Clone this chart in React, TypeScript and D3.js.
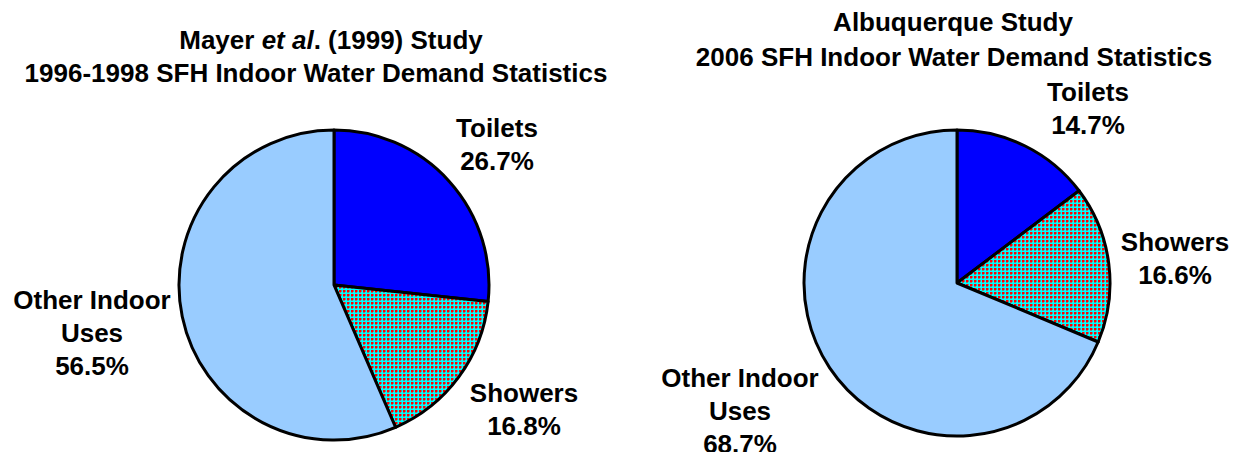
import React from 'react';
import * as d3 from 'd3';

// Data
const categories = ['Toilets', 'Showers', 'Other Indoor Uses'];
const mayerValues = [26.7, 16.8, 56.5];
const abqValues = [14.7, 16.6, 68.7];

const abqTitle = ['Albuquerque Study', '2006 SFH Indoor Water Demand Statistics'];
const mayerSubtitle = '1996-1998 SFH Indoor Water Demand Statistics';

const sliceFills = ['#0000FF', 'url(#showerPattern)', '#99CCFF'];

const font = '"Liberation Sans", Arial, sans-serif';
const fontSize = 26;
const lineH = 33;

function labelLines(cat: string, v: number): string[] {
  if (cat === 'Other Indoor Uses') return ['Other Indoor', 'Uses', `${v.toFixed(1)}%`];
  return [cat, `${v.toFixed(1)}%`];
}

function Pie({ cx, cy, r, values }: { cx: number; cy: number; r: number; values: number[] }) {
  const pie = d3.pie<number>().sort(null).value(d => d);
  const arc = d3.arc<d3.PieArcDatum<number>>().innerRadius(0).outerRadius(r);
  const arcs = pie(values);
  return (
    <g transform={`translate(${cx},${cy})`}>
      {arcs.map((a, i) => (
        <path key={i} d={arc(a) || ''} fill={sliceFills[i]} stroke="#000" strokeWidth={3} strokeLinejoin="round" />
      ))}
    </g>
  );
}

function Label({ x, y, lines }: { x: number; y: number; lines: string[] }) {
  return (
    <text fontFamily={font} fontSize={fontSize} fontWeight="bold" textAnchor="middle" fill="#000">
      {lines.map((l, i) => (
        <tspan key={i} x={x} y={y + i * lineH}>{l}</tspan>
      ))}
    </text>
  );
}

export default function App() {
  return (
    <svg width={1234} height={452} style={{ position: 'absolute', left: 0, top: 0, background: '#fff' }}>
      <defs>
        <pattern id="showerPattern" width={4} height={4} patternUnits="userSpaceOnUse">
          <rect width={4} height={4} fill="#00FFFF" shapeRendering="crispEdges" />
          <rect x={1} y={1} width={2} height={2} fill="#FF0000" shapeRendering="crispEdges" />
          <rect x={3} y={1} width={1} height={2} fill="#808080" shapeRendering="crispEdges" />
          <rect x={1} y={3} width={2} height={1} fill="#808080" shapeRendering="crispEdges" />
        </pattern>
      </defs>

      {/* Left chart */}
      <text fontFamily={font} fontSize={fontSize} fontWeight="bold" textAnchor="middle">
        <tspan x={331} y={49}>Mayer <tspan fontStyle="italic">et al</tspan>. (1999) Study</tspan>
        <tspan x={316} y={82}>{mayerSubtitle}</tspan>
      </text>
      <Pie cx={334} cy={285} r={155} values={mayerValues} />
      <Label x={497} y={137} lines={labelLines(categories[0], mayerValues[0])} />
      <Label x={524} y={402} lines={labelLines(categories[1], mayerValues[1])} />
      <Label x={92} y={309} lines={labelLines(categories[2], mayerValues[2])} />

      {/* Right chart */}
      <text fontFamily={font} fontSize={fontSize} fontWeight="bold" textAnchor="middle">
        <tspan x={953} y={31}>{abqTitle[0]}</tspan>
        <tspan x={954} y={66}>{abqTitle[1]}</tspan>
      </text>
      <Pie cx={957} cy={283} r={153} values={abqValues} />
      <Label x={1088} y={101} lines={labelLines(categories[0], abqValues[0])} />
      <Label x={1175} y={251} lines={labelLines(categories[1], abqValues[1])} />
      <Label x={740} y={387} lines={labelLines(categories[2], abqValues[2])} />
    </svg>
  );
}
